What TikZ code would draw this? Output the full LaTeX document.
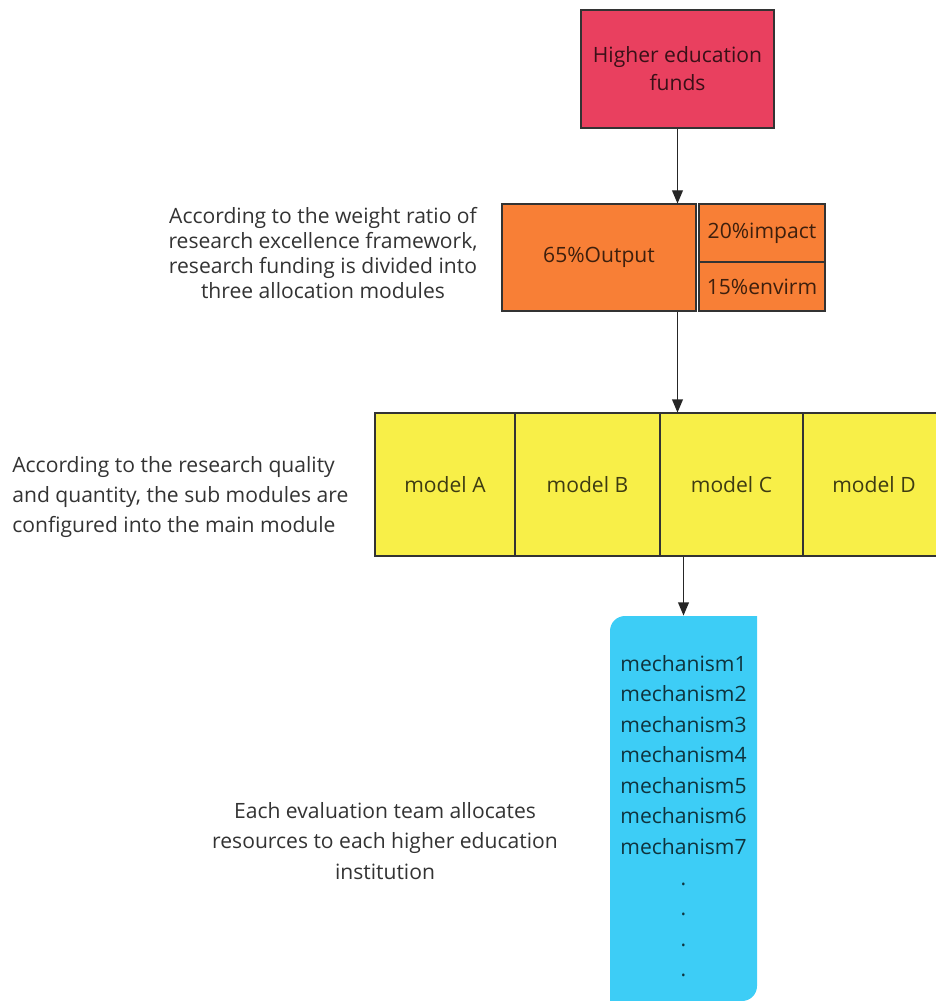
\documentclass[tikz,border=0pt]{standalone}
\usepackage{fontspec}
\setmainfont{Open Sans}
\usepackage{tikz}
\usetikzlibrary{arrows}
\usetikzlibrary{positioning}

\definecolor{fundred}{HTML}{E9405F}
\definecolor{outorange}{HTML}{F87F36}
\definecolor{modyellow}{HTML}{F8EF48}
\definecolor{instblue}{HTML}{3DCDF6}
\definecolor{inkgray}{HTML}{333333}

\begin{document}
\begin{tikzpicture}[x=0.02cm, y=-0.02cm,
		box/.style={draw=inkgray, line width=0.6pt, inner sep=0pt, align=center,
			text=black, text opacity=0.75, font=\fontsize{12}{16}\selectfont},
		note/.style={text=inkgray, align=center, inner sep=0pt},
		arr/.style={-triangle 45, line width=0.7pt, draw=black!85}]
	\useasboundingbox (0,0) rectangle (936,1001);

	% funds
	\node[box, fill=fundred, minimum width=3.86cm, minimum height=2.36cm] (funds) at (677.5,69) {Higher education\\funds};

	% three allocation modules
	\node[box, fill=outorange, minimum width=3.88cm, minimum height=2.14cm] (output) at (599,257.5) {65\%Output};
	\node[box, fill=outorange, minimum width=2.52cm, minimum height=1.16cm] (impact) at (762,233) {20\%impact};
	\node[box, fill=outorange, minimum width=2.52cm, minimum height=0.98cm] (envirm) at (762,286.5) {15\%envirm};

	% sub modules
	\node[box, fill=modyellow, minimum width=2.80cm, minimum height=2.86cm] (modelA) at (445,484.5) {model A};
	\node[box, fill=modyellow, minimum width=2.90cm, minimum height=2.86cm] (modelB) at (587.5,484.5) {model B};
	\node[box, fill=modyellow, minimum width=2.86cm, minimum height=2.86cm] (modelC) at (731.5,484.5) {model C};
	\node[box, fill=modyellow, minimum width=2.84cm, minimum height=2.86cm] (modelD) at (874,484.5) {model D};

	% institutions
	\fill[instblue] (610,1001) -- (610,631) to[out=90, in=180] (625,616) -- (757,616)
		-- (757,986) to[out=-90, in=0] (742,1001) -- cycle;
	\node[box, draw=none, minimum width=2.94cm, minimum height=8cm,
		font=\fontsize{12}{17.4}\selectfont] (inst) at (683.5,816)
		{mechanism1\\mechanism2\\mechanism3\\mechanism4\\mechanism5\\mechanism6\\mechanism7\\.\\.\\.\\.};

	\draw[arr] (funds) -- (funds |- output.north);
	\draw[arr] (funds |- output.south) -- (funds |- modelC.north);
	\draw[arr] (inst.north |- modelC.south) -- (inst.north);

	% notes
	\node[note, font=\fontsize{12}{14.4}\selectfont] (note1) at (323,253)
		{According to the weight ratio of\\research excellence framework,\\research funding is divided into\\three allocation modules};
	\node[note, anchor=west, align=left, font=\fontsize{12}{17}\selectfont] (note2) at (12,497)
		{According to the research quality\\and quantity, the sub modules are\\configured into the main module};
	\node[note, font=\fontsize{12}{17.5}\selectfont] (note3) at (385,841)
		{Each evaluation team allocates\\resources to each higher education\\institution};
\end{tikzpicture}
\end{document}
